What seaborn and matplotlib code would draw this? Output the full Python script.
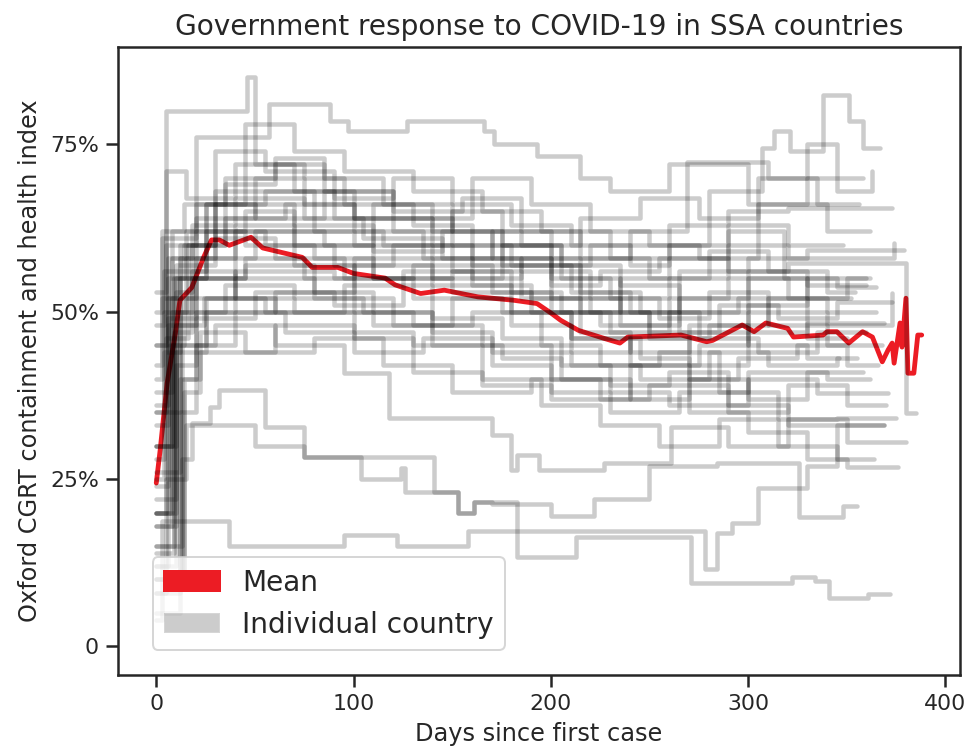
import numpy as np
import pandas as pd
import matplotlib
matplotlib.use("Agg")
import matplotlib.pyplot as plt
from matplotlib.patches import Patch
from matplotlib.ticker import FuncFormatter
import seaborn as sns

# Oxford CGRT containment & health index per country: (day since first case, new value)
# change points; the last pair marks the final day with data.
c01 = [(0, 45), (5, 80), (46, 85), (50, 72), (75, 70), (95, 66), (130, 63), (160, 58), (200, 52), (235, 48), (260, 50), (300, 55), (330, 52), (352, 52)]
c02 = [(0, 30), (8, 62), (20, 76), (57, 81), (88, 78.5), (97, 77), (127, 78.5), (166, 77), (171, 75), (193, 73.3), (215, 70), (230, 68), (260, 72), (300, 66), (340, 62), (362, 62)]
c03 = [(0, 20), (10, 55), (40, 62), (100, 60), (160, 57), (220, 60), (280, 68), (307, 74.5), (313, 77), (321, 74), (338, 82.3), (351, 78.5), (358, 74.5), (367, 74.5)]
c04 = [(0, 35), (12, 60), (30, 68), (90, 64), (150, 60), (200, 58), (240, 62), (269, 72.3), (310, 70), (330, 75), (345, 68), (363, 71)]
c05 = [(0, 4), (3, 18.7), (37, 15), (95, 16.7), (122, 15), (158, 17.3), (278, 11.5), (284, 17), (292, 18.5), (305, 23.7), (330, 27), (345, 33), (369, 33)]
c06 = [(0, 8), (5, 25), (15, 33), (50, 30), (75, 28.3), (141, 23), (153, 20), (161, 21.5), (183, 13.4), (213, 16.4), (271, 9.5), (322, 10.3), (334, 9.7), (341, 7.3), (361, 7.9), (372, 7.9)]
c07 = [(0, 10), (13, 28), (18, 33.4), (27, 35.8), (32, 38.3), (55, 32.8), (75, 28.3), (104, 25), (124, 26.7), (126, 23.1), (153, 20), (161, 21.5), (170, 21.2), (200, 19.5), (222, 22), (250, 27), (284, 27.4), (326, 19.4), (348, 20.9), (355, 20.9)]
c08 = [(0, 20), (8, 45), (30, 48), (60, 45), (95, 40.8), (118, 34.1), (170, 31.6), (180, 26.4), (183, 28.6), (194, 26.4), (227, 27.4), (261, 32.8), (290, 30), (320, 34), (350, 30.6), (380, 30.6)]
c09 = [(0, 12), (6, 48), (20, 62), (45, 65), (70, 60), (110, 55), (150, 56), (185, 52), (215, 47), (240, 42), (275, 45), (300, 50), (340, 48), (373, 52.8)]
c10 = [(0, 15), (9, 55), (25, 66), (55, 68), (80, 62), (115, 60), (140, 58), (170, 62), (200, 55), (230, 52), (260, 55), (290, 60), (320, 58), (374, 60.2)]
c11 = [(0, 25), (4, 50), (15, 58), (40, 63), (70, 57), (100, 50), (130, 48), (165, 45), (200, 40), (230, 38), (260, 36), (300, 40), (335, 37.8), (371, 37.8)]
c12 = [(0, 30), (10, 53), (18, 60), (35, 70), (60, 72), (85, 68), (120, 62), (150, 65), (175, 60), (205, 55), (235, 50), (265, 56), (300, 58), (330, 59.2), (379, 59.2)]
c13 = [(0, 5), (12, 40), (20, 50), (40, 55), (80, 52), (120, 48), (160, 50), (195, 45), (225, 42), (255, 44), (285, 38), (315, 34), (345, 34.1), (375, 34.1)]
c14 = [(0, 20), (7, 45), (14, 52), (40, 56), (90, 55), (130, 52), (175, 50), (210, 44), (240, 46), (270, 42), (300, 47), (330, 48.3), (369, 48.3)]
c15 = [(0, 53), (5, 60), (20, 64), (50, 70), (75, 66), (100, 64), (140, 62), (170, 58), (200, 54), (225, 56), (255, 58), (290, 62), (318, 55), (345, 53.7), (365, 53.7)]
c16 = [(0, 40), (3, 52), (10, 57), (30, 74), (55, 71), (90, 67), (120, 70), (150, 66), (180, 63), (210, 60), (240, 57), (260, 63), (290, 65), (320, 65.4), (373, 65.4)]
c17 = [(0, 10), (14, 38), (22, 44), (60, 48), (100, 46), (130, 41), (165, 39), (200, 37), (240, 42), (270, 35), (300, 32), (330, 28), (350, 26.8), (376, 26.8)]
c18 = [(0, 35), (5, 71), (15, 67), (40, 72), (70, 68), (100, 64), (140, 60), (180, 57), (215, 50), (250, 47), (285, 51), (315, 49), (345, 51.4), (373, 51.4)]
c19 = [(0, 22), (10, 48), (24, 52), (55, 50), (95, 54), (140, 49), (175, 46), (205, 42), (230, 39), (260, 41), (290, 36), (320, 33), (369, 33)]
c20 = [(0, 45), (6, 58), (15, 62), (45, 60), (80, 58), (110, 55), (150, 53), (190, 50), (225, 48), (265, 52), (300, 56), (330, 54), (360, 54)]
c21 = [(0, 28), (4, 44), (12, 50), (35, 54), (70, 52), (105, 50), (140, 47), (170, 44), (210, 42), (245, 40), (280, 44), (310, 42), (345, 43), (355, 43)]
c22 = [(0, 18), (8, 52), (20, 58), (50, 62), (85, 60), (110, 66), (140, 64), (160, 70), (190, 66), (220, 62), (250, 60), (275, 58), (305, 66), (330, 70), (358, 70)]
c23 = [(0, 33), (6, 49), (20, 55), (45, 58), (75, 55), (100, 57), (140, 55), (175, 60), (205, 57), (235, 54), (265, 50), (295, 52), (330, 46), (350, 46)]
c24 = [(0, 8), (12, 35), (20, 45), (40, 50), (65, 47), (100, 44), (135, 46), (170, 42), (200, 38), (230, 35), (265, 38), (300, 41), (340, 40), (362, 40)]
c25 = [(0, 48), (4, 56), (25, 66), (45, 78), (70, 74), (95, 71), (130, 68), (165, 65), (195, 62), (230, 58), (260, 60), (290, 63), (320, 60), (348, 60)]
c26 = [(0, 38), (8, 58), (18, 63), (40, 67), (75, 64), (105, 61), (145, 58), (185, 56), (220, 52), (255, 49), (280, 53), (310, 48), (340, 45), (368, 45)]
c27 = [(0, 12), (10, 42), (20, 49), (50, 53), (90, 51), (125, 56), (160, 54), (190, 52), (220, 50), (250, 46), (280, 48), (310, 52), (340, 50), (365, 50)]
c28 = [(0, 26), (12, 55), (25, 62), (55, 60), (90, 57), (120, 60), (150, 56), (180, 53), (205, 50), (235, 55), (260, 58), (290, 56), (320, 57.2), (380, 34.9), (385, 34.9)]
c29 = [(0, 20), (5, 46), (16, 60), (35, 64), (65, 66), (100, 62), (135, 58), (160, 55), (185, 58), (215, 53), (245, 50), (275, 46), (305, 44), (335, 47), (360, 47)]
c30 = [(0, 30), (8, 50), (18, 56), (40, 52), (70, 50), (110, 48), (150, 52), (180, 48), (210, 46), (240, 44), (270, 48), (300, 45), (330, 43), (346, 43)]
c31 = [(0, 42), (3, 62), (14, 66), (35, 69), (60, 73), (85, 70), (115, 66), (150, 62), (185, 60), (215, 64), (245, 67), (275, 64), (305, 70), (335, 66), (356, 66)]
c32 = [(0, 15), (13, 45), (25, 52), (60, 50), (100, 47), (130, 45), (165, 40), (195, 36), (225, 33), (255, 30), (285, 34), (315, 30), (345, 28), (364, 28)]
c33 = [(0, 10), (14, 40), (22, 47), (45, 44), (80, 46), (115, 42), (150, 38), (190, 40), (225, 37), (250, 39), (290, 35), (320, 39), (350, 36), (370, 36)]
c34 = [(0, 24), (6, 52), (12, 58), (30, 61), (60, 58), (95, 55), (130, 57), (170, 53), (200, 50), (230, 47), (260, 52), (290, 55), (320, 52), (350, 55), (362, 55)]
c35 = [(0, 14), (9, 47), (18, 55), (45, 57), (80, 53), (110, 50), (140, 45), (175, 43), (205, 40), (240, 37), (270, 40), (300, 37), (330, 41), (358, 41)]
c36 = [(0, 50), (3, 61), (20, 66), (50, 64), (85, 68), (120, 65), (155, 67), (185, 62), (215, 58), (250, 55), (280, 59), (310, 56), (340, 53), (354, 53)]
c37 = [(0, 18), (10, 44), (25, 50), (60, 53), (100, 58), (140, 54), (180, 50), (210, 46), (245, 43), (270, 40), (295, 43), (325, 45), (350, 42), (366, 42)]
c38 = [(0, 36), (6, 55), (14, 60), (30, 66), (70, 63), (110, 59), (145, 62), (175, 57), (210, 53), (240, 50), (265, 47), (300, 51), (330, 55), (360, 55)]

# Cross-country mean of the index
mean_days = [0, 2, 5.5, 9.7, 12, 18, 24, 28, 32, 37, 48, 54, 74, 79, 92, 100, 116, 121, 134, 146, 163,
             181, 193, 200, 205, 214, 227, 235, 239, 266, 279, 282, 297, 303, 309, 320, 323, 338, 340,
             345, 351, 358, 363, 368, 371, 373, 374, 377, 378, 380, 381, 384, 386, 388]
mean_vals = [24.4, 29.4, 39.3, 46.8, 51.7, 53.6, 58.1, 60.7, 60.7, 59.9, 61.1, 59.5, 58.1, 56.6, 56.6, 55.7,
             55.0, 54.0, 52.7, 53.2, 52.2, 51.7, 51.2, 49.8, 48.7, 47.2, 46.0, 45.3, 46.2, 46.5, 45.5, 45.7,
             48.0, 47.0, 48.3, 47.5, 46.2, 46.5, 47.0, 47.0, 45.3, 47.0, 46.2, 42.5, 44.3, 45.3, 42.3, 48.3,
             44.7, 52.0, 40.8, 40.8, 46.5, 46.5]

y_ticks = [0, 25, 50, 75]
x_ticks = [0, 100, 200, 300, 400]

countries = [c01, c02, c03, c04, c05, c06, c07, c08, c09, c10, c11, c12, c13, c14, c15, c16, c17,
             c18, c19, c20, c21, c22, c23, c24, c25, c26, c27, c28, c29, c30, c31, c32, c33, c34,
             c35, c36, c37, c38]
rows = [(i, d, v) for i, pts in enumerate(countries) for d, v in pts]
df = pd.DataFrame(rows, columns=["country", "day", "index"])
mean_df = pd.DataFrame({"day": mean_days, "index": mean_vals})

sns.set_theme(style="ticks", context="notebook")
plt.rcParams["font.family"] = ["DejaVu Sans"]

red = "#ec1c24"
fig, ax = plt.subplots(figsize=(980 / 144, 747 / 144), dpi=144)
fig.subplots_adjust(left=0.1204, right=0.9796, bottom=0.0964, top=0.937)

sns.lineplot(data=mean_df, x="day", y="index", color=red, linewidth=2.4, ax=ax, zorder=2)
sns.lineplot(data=df, x="day", y="index", units="country", estimator=None, color="black",
             alpha=0.2, linewidth=2.25, drawstyle="steps-post", legend=False, ax=ax, zorder=3)

ax.set_xlim(-19.4, 407.4)
ax.set_ylim(-4.26, 89.5)
ax.set_xticks(x_ticks)
ax.set_yticks(y_ticks)
ax.yaxis.set_major_formatter(FuncFormatter(lambda v, _: "0" if v == 0 else f"{v:.0f}%"))

ax.set_xlabel("Days since first case", fontsize=12)
ax.set_ylabel("Oxford CGRT containment and health index", fontsize=12)
ax.set_title("Government response to COVID-19 in SSA countries", fontsize=14)

handles = [Patch(facecolor=red, edgecolor=red, label="Mean"),
           Patch(facecolor="black", alpha=0.2, label="Individual country")]
ax.legend(handles=handles, loc="lower left", bbox_to_anchor=(0.041, 0.04), borderaxespad=0,
          fontsize=14, framealpha=0.8)

fig.savefig("out.png", dpi=144)
